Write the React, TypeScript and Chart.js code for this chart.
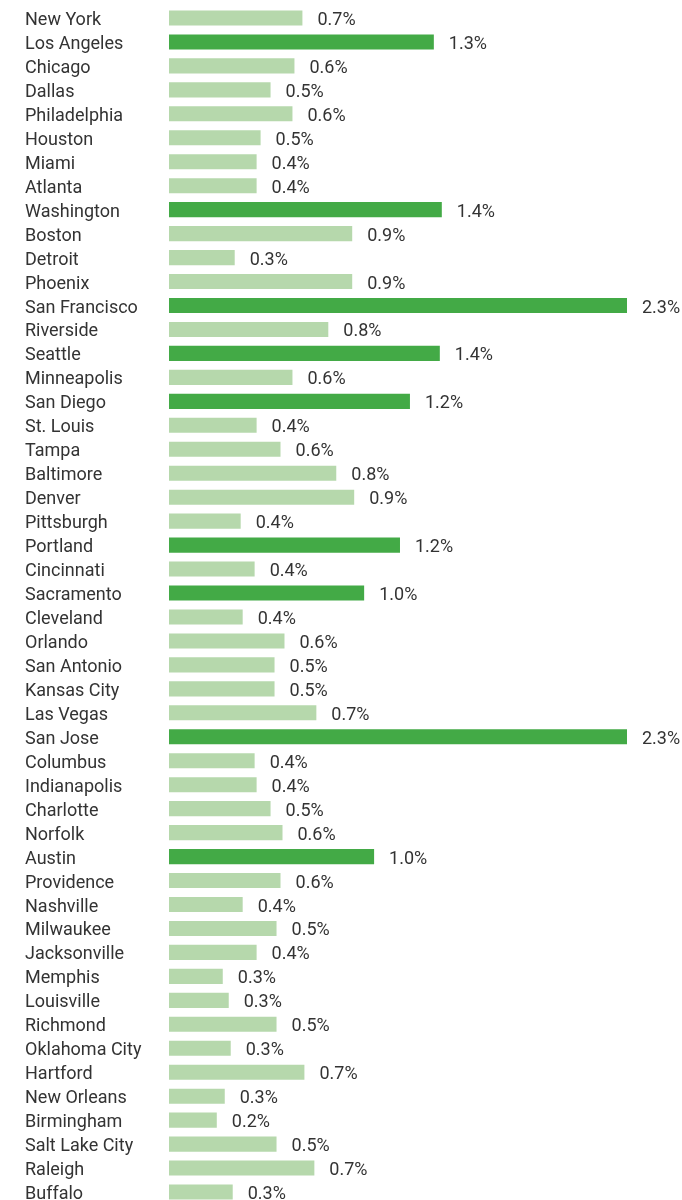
import React, { useEffect, useRef } from "react";
import { Chart, registerables } from "chart.js";

Chart.register(...registerables);

const cities = [
  "New York", "Los Angeles", "Chicago", "Dallas", "Philadelphia", "Houston", "Miami", "Atlanta",
  "Washington", "Boston", "Detroit", "Phoenix", "San Francisco", "Riverside", "Seattle", "Minneapolis",
  "San Diego", "St. Louis", "Tampa", "Baltimore", "Denver", "Pittsburgh", "Portland", "Cincinnati",
  "Sacramento", "Cleveland", "Orlando", "San Antonio", "Kansas City", "Las Vegas", "San Jose", "Columbus",
  "Indianapolis", "Charlotte", "Norfolk", "Austin", "Providence", "Nashville", "Milwaukee", "Jacksonville",
  "Memphis", "Louisville", "Richmond", "Oklahoma City", "Hartford", "New Orleans", "Birmingham",
  "Salt Lake City", "Raleigh", "Buffalo",
];

const shares = [
  0.67, 1.33, 0.63, 0.51, 0.62, 0.46, 0.44, 0.44,
  1.37, 0.92, 0.33, 0.92, 2.30, 0.80, 1.36, 0.62,
  1.21, 0.44, 0.56, 0.84, 0.93, 0.36, 1.16, 0.43,
  0.98, 0.37, 0.58, 0.53, 0.53, 0.74, 2.30, 0.43,
  0.44, 0.51, 0.57, 1.03, 0.56, 0.37, 0.54, 0.44,
  0.27, 0.30, 0.54, 0.31, 0.68, 0.28, 0.24,
  0.54, 0.73, 0.32,
];

const highlighted = [
  "Los Angeles", "Washington", "San Francisco", "Seattle", "San Diego",
  "Portland", "Sacramento", "San Jose", "Austin",
];

const DARK = "#43aa46";
const LIGHT = "#b6d8ac";
const TEXT = "#333333";
const FONT = "Roboto";

const valueLabels = {
  id: "valueLabels",
  afterDatasetsDraw(chart: any) {
    const ctx = chart.ctx;
    const meta = chart.getDatasetMeta(0);
    ctx.save();
    ctx.font = `18px ${FONT}`;
    ctx.fillStyle = TEXT;
    ctx.textAlign = "left";
    ctx.textBaseline = "middle";
    meta.data.forEach((bar: any, i: number) => {
      ctx.fillText(shares[i].toFixed(1) + "%", bar.x + 15, bar.y + 2.5);
    });
    ctx.restore();
  },
};

export default function App() {
  const ref = useRef<HTMLCanvasElement | null>(null);

  useEffect(() => {
    if (!ref.current) return;
    const chart = new Chart(ref.current, {
      type: "bar",
      data: {
        labels: cities,
        datasets: [
          {
            data: shares,
            backgroundColor: cities.map((c) => (highlighted.includes(c) ? DARK : LIGHT)),
            barPercentage: 0.63,
            categoryPercentage: 1,
          },
        ],
      },
      options: {
        indexAxis: "y",
        animation: false,
        responsive: false,
        maintainAspectRatio: false,
        layout: { padding: { left: 25, right: 55, top: 6, bottom: 0 } },
        plugins: { legend: { display: false }, tooltip: { enabled: false } },
        scales: {
          x: { display: false, min: 0, max: 2.3 },
          y: {
            grid: { display: false },
            border: { display: false },
            ticks: {
              autoSkip: false,
              crossAlign: "far",
              padding: 0,
              labelOffset: 2.5,
              color: TEXT,
              font: { family: FONT, size: 18 },
            },
            afterFit: (scale: any) => {
              scale.width = 144;
              scale.paddingTop = 0;
              scale.paddingBottom = 0;
            },
          },
        },
      },
      plugins: [valueLabels],
    });
    return () => chart.destroy();
  }, []);

  return (
    <div style={{ position: "absolute", top: 0, left: 0, width: 682, height: 1200, overflow: "hidden", background: "#fff" }}>
      <canvas ref={ref} width={682} height={1204} style={{ display: "block" }} />
    </div>
  );
}
